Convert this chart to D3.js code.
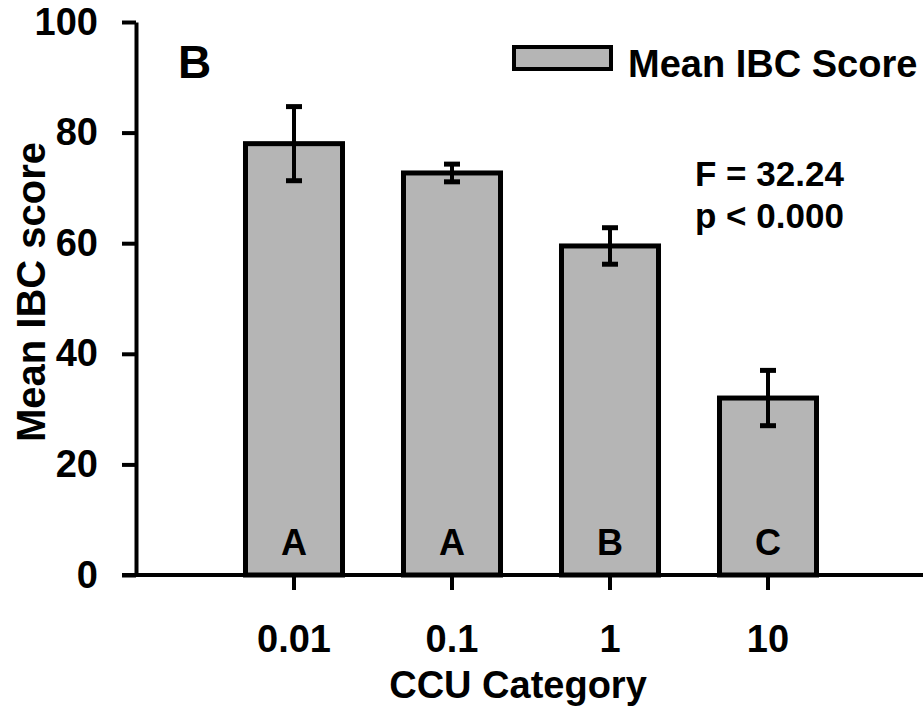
<!DOCTYPE html>
<html>
<head>
<meta charset="utf-8">
<script src="https://cdn.jsdelivr.net/npm/d3@7"></script>
<style>
  body { margin: 0; background: #fff; }
  svg { display: block; font-family: "Liberation Sans", Arial, sans-serif; font-weight: bold; }
</style>
</head>
<body>
<svg id="area" width="923" height="719"></svg>
<script>
const categories = ['0.01', '0.1', '1', '10'];
const meanScores = [78, 72.7, 59.5, 32];
const errors = [6.7, 1.6, 3.3, 5];
const groups = ['A', 'A', 'B', 'C'];
const yTicks = [0, 20, 40, 60, 80, 100];

const svg = d3.select('#area');

const x = d3.scaleBand()
  .domain(categories)
  .range([136, 926])
  .paddingInner(0.386)
  .paddingOuter(0.693);

const y = d3.scaleLinear().domain([0, 100]).range([575, 22]);

// y axis
const yAxis = svg.append('g')
  .attr('transform', 'translate(136,0)')
  .call(d3.axisLeft(y).tickValues(yTicks).tickSize(14).tickSizeOuter(0).tickPadding(24));
yAxis.select('.domain').attr('stroke-width', 4);
yAxis.selectAll('.tick line').attr('stroke-width', 4);
yAxis.selectAll('.tick text').attr('font-size', 38).attr('fill', '#000');

// x axis
const xAxis = svg.append('g')
  .attr('transform', 'translate(0,575)')
  .call(d3.axisBottom(x).tickSize(15).tickSizeOuter(0).tickPadding(35));
xAxis.select('.domain').remove();
xAxis.append('line')
  .attr('x1', 122).attr('x2', 923)
  .attr('stroke', '#000').attr('stroke-width', 4);
xAxis.selectAll('.tick line').attr('stroke-width', 4);
xAxis.selectAll('.tick text').attr('font-size', 38).attr('fill', '#000');

// bars
svg.append('g')
  .selectAll('rect')
  .data(categories)
  .join('rect')
  .attr('x', (d) => x(d))
  .attr('y', (d, i) => y(meanScores[i]))
  .attr('width', x.bandwidth())
  .attr('height', (d, i) => y(0) - y(meanScores[i]))
  .attr('fill', '#b5b5b5')
  .attr('stroke', '#000')
  .attr('stroke-width', 5);

// error bars
const err = svg.append('g').attr('stroke', '#000');
categories.forEach((c, i) => {
  const cx = x(c) + x.bandwidth() / 2;
  const hi = y(meanScores[i] + errors[i]);
  const lo = y(meanScores[i] - errors[i]);
  err.append('line').attr('x1', cx).attr('x2', cx).attr('y1', hi).attr('y2', lo).attr('stroke-width', 4);
  err.append('line').attr('x1', cx - 8).attr('x2', cx + 8).attr('y1', hi).attr('y2', hi).attr('stroke-width', 5);
  err.append('line').attr('x1', cx - 8).attr('x2', cx + 8).attr('y1', lo).attr('y2', lo).attr('stroke-width', 5);
});

// group letters
svg.append('g')
  .selectAll('text')
  .data(categories)
  .join('text')
  .attr('x', (d) => x(d) + x.bandwidth() / 2)
  .attr('y', 555)
  .attr('text-anchor', 'middle')
  .attr('font-size', 36)
  .text((d, i) => groups[i]);

// axis titles
svg.append('text')
  .attr('transform', 'translate(45,292) rotate(-90)')
  .attr('text-anchor', 'middle')
  .attr('font-size', 40)
  .text('Mean IBC score');

svg.append('text')
  .attr('x', 518)
  .attr('y', 698)
  .attr('text-anchor', 'middle')
  .attr('font-size', 38)
  .text('CCU Category');

// panel letter
svg.append('text')
  .attr('x', 178)
  .attr('y', 78)
  .attr('font-size', 46)
  .text('B');

// legend
svg.append('rect')
  .attr('x', 514).attr('y', 47)
  .attr('width', 97).attr('height', 22)
  .attr('fill', '#b5b5b5')
  .attr('stroke', '#000')
  .attr('stroke-width', 4);
svg.append('text')
  .attr('x', 628).attr('y', 77)
  .attr('font-size', 38)
  .text('Mean IBC Score');

// stats
svg.append('text').attr('x', 695).attr('y', 186).attr('font-size', 35).text('F = 32.24');
svg.append('text').attr('x', 695).attr('y', 228).attr('font-size', 35).text('p < 0.000');
</script>
</body>
</html>
